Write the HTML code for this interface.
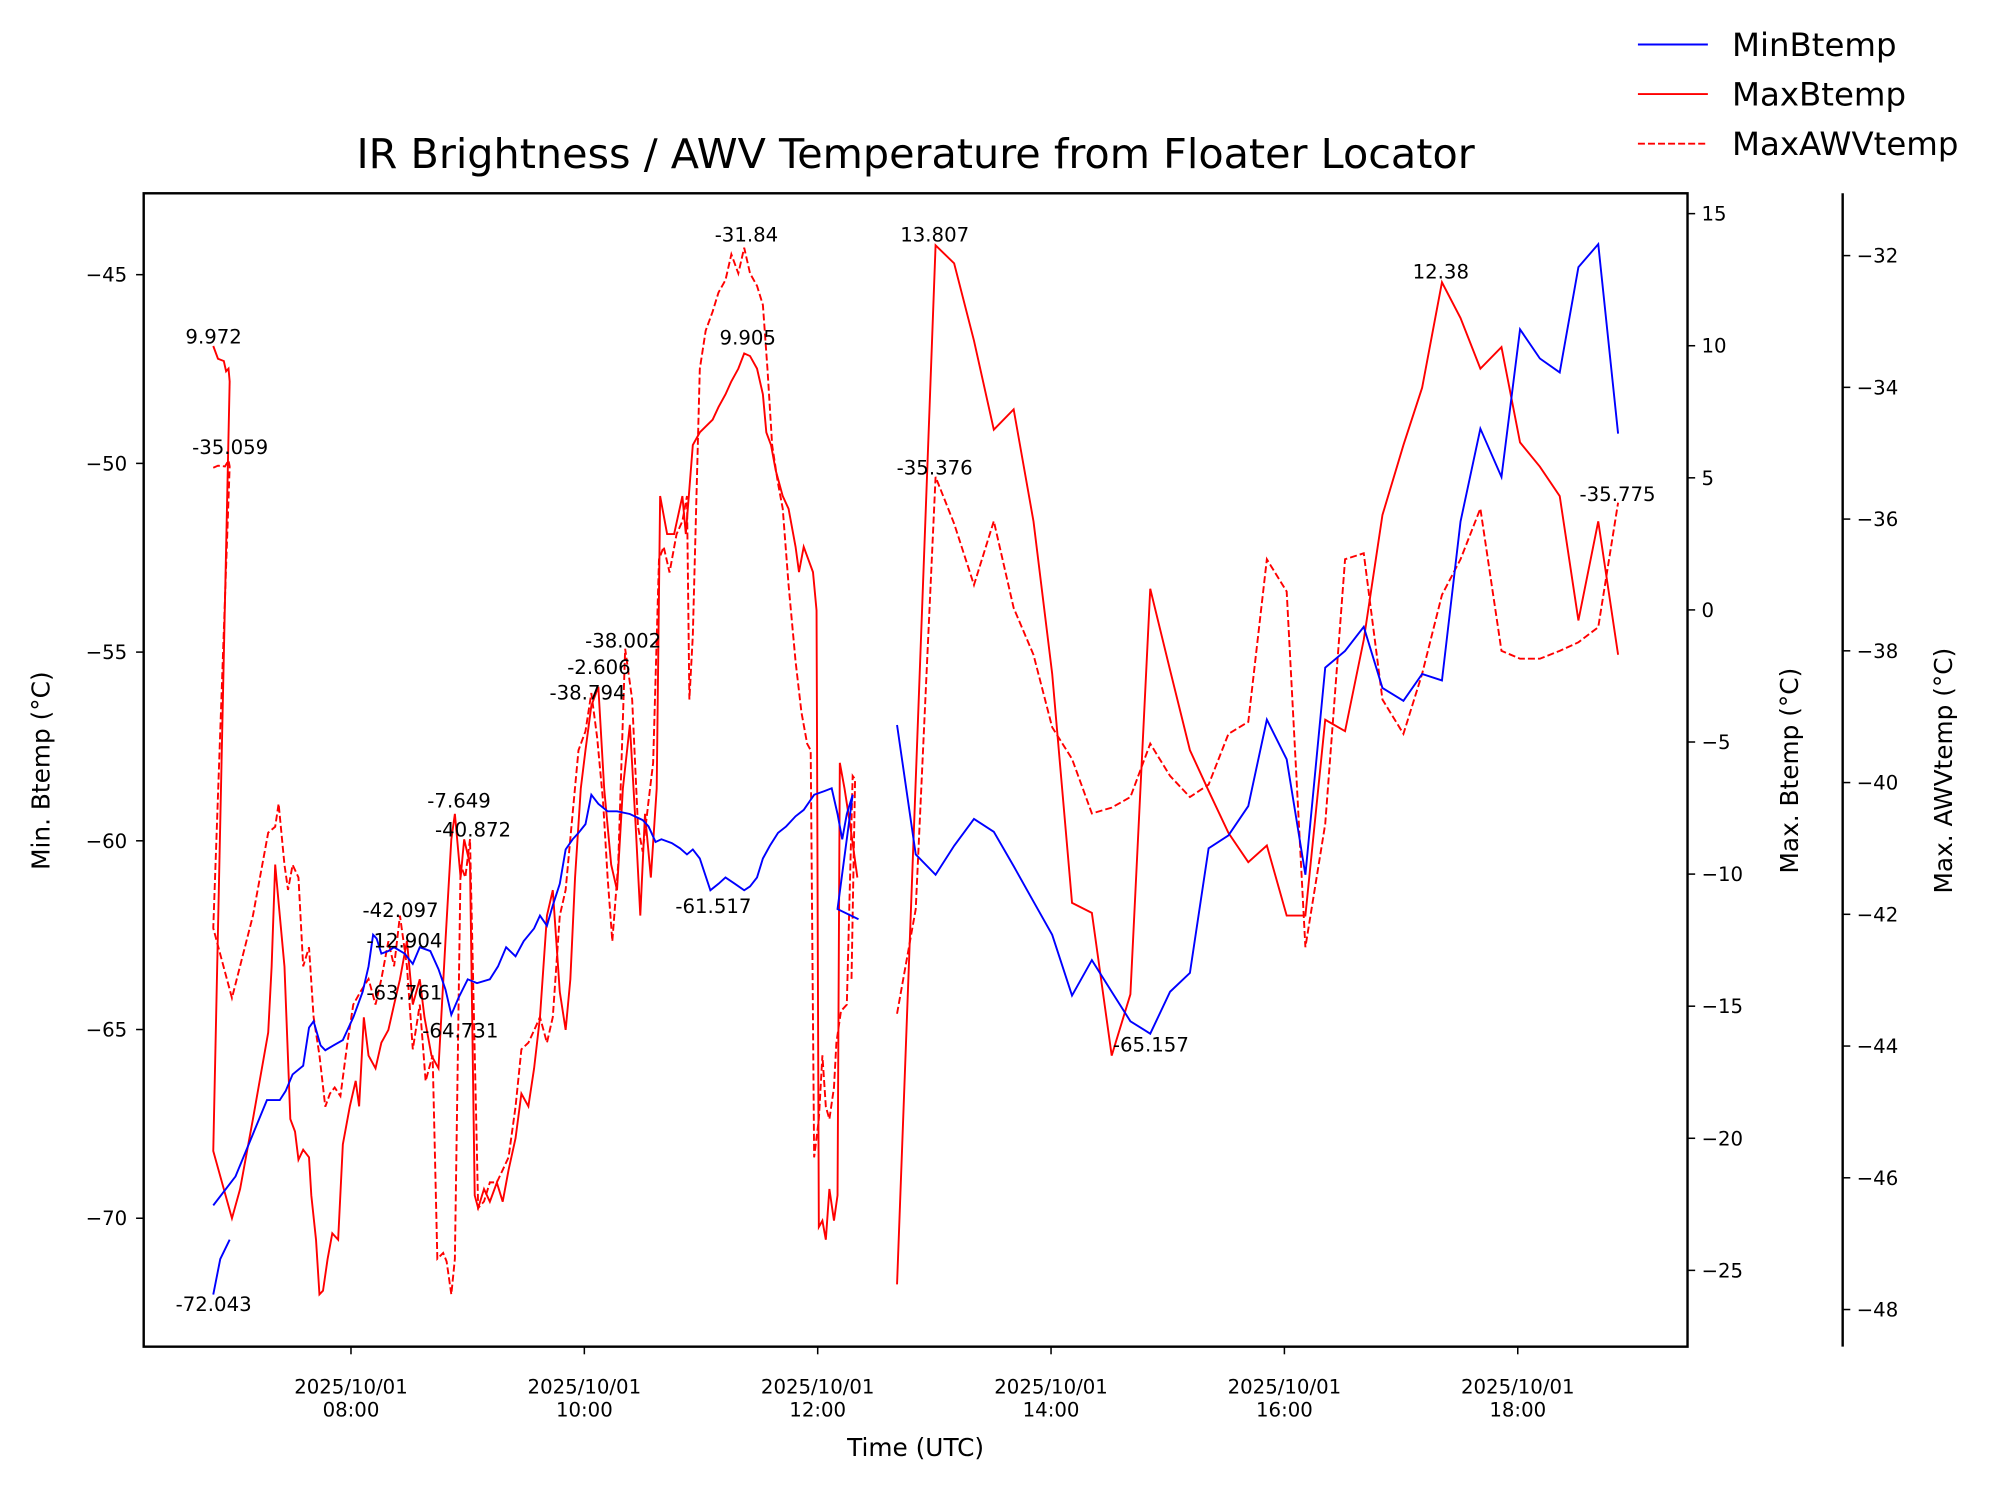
<!DOCTYPE html>
<html><head><meta charset="utf-8"><style>
html,body{margin:0;padding:0;background:#fff;}
svg{display:block;font-family:"DejaVu Sans","Liberation Sans",sans-serif;}
</style></head><body>
<svg id="chart" width="1994" height="1491" viewBox="0 0 1568 1172.5" preserveAspectRatio="none" xmlns="http://www.w3.org/2000/svg">
<rect width="1568" height="1172.5" fill="#fff"/>
<text x="720" y="132" font-size="32.5" text-anchor="middle">IR Brightness / AWV Temperature from Floater Locator</text>
<g id="plot"></g>
</svg>
<script>
// ---- data (hours UTC, values) ----
const minT = [6.82,6.88,6.96,null,6.82,7.01,7.28,7.39,7.44,7.50,7.59,7.64,7.68,7.74,7.78,7.85,7.93,8.02,8.10,8.15,8.19,8.22,8.26,8.32,8.37,8.46,8.53,8.59,8.68,8.75,8.81,8.86,8.92,9.00,9.08,9.19,9.26,9.33,9.41,9.48,9.57,9.62,9.68,9.73,9.79,9.84,9.90,9.95,10.01,10.06,10.12,10.20,10.28,10.39,10.50,10.55,10.61,10.66,10.75,10.82,10.88,10.93,10.99,11.08,11.15,11.21,11.29,11.37,11.42,11.48,11.53,11.59,11.66,11.73,11.81,11.88,11.97,12.06,12.12,12.17,12.21,12.25,12.30,12.17,12.35,null,
12.68,12.84,13.01,13.17,13.34,13.51,13.68,13.85,14.01,14.18,14.35,14.52,14.68,14.85,15.02,15.19,15.35,15.52,15.69,15.85,16.02,16.18,16.35,16.52,16.68,16.84,17.02,17.18,17.35,17.51,17.68,17.86,18.02,18.19,18.36,18.52,18.69,18.86];
const minV = [-72.02,-71.08,-70.57,null,-69.66,-68.89,-66.87,-66.87,-66.63,-66.19,-65.96,-64.95,-64.78,-65.42,-65.55,-65.42,-65.28,-64.68,-64.00,-63.33,-62.49,-62.59,-62.99,-62.92,-62.82,-62.99,-63.26,-62.82,-62.92,-63.40,-63.94,-64.61,-64.17,-63.67,-63.77,-63.67,-63.33,-62.82,-63.06,-62.66,-62.32,-61.98,-62.25,-61.71,-61.14,-60.23,-59.96,-59.79,-59.56,-58.78,-59.02,-59.22,-59.22,-59.29,-59.45,-59.62,-60.03,-59.96,-60.06,-60.20,-60.36,-60.23,-60.47,-61.31,-61.14,-60.97,-61.14,-61.31,-61.21,-60.97,-60.47,-60.13,-59.79,-59.62,-59.35,-59.18,-58.78,-58.68,-58.61,-59.29,-59.96,-59.29,-58.78,-61.81,-62.08,null,
-56.93,-60.36,-60.90,-60.13,-59.42,-59.76,-60.67,-61.61,-62.49,-64.10,-63.16,-64.00,-64.78,-65.11,-64.00,-63.50,-60.20,-59.86,-59.08,-56.79,-57.84,-60.90,-55.41,-54.97,-54.33,-55.95,-56.29,-55.58,-55.75,-51.54,-49.08,-50.36,-46.45,-47.22,-47.59,-44.80,-44.19,-49.21];

const maxT = [6.82,6.86,6.91,6.93,6.95,6.96,6.82,6.98,7.05,7.16,7.29,7.32,7.35,7.38,7.43,7.48,7.52,7.55,7.59,7.64,7.66,7.70,7.73,7.76,7.80,7.84,7.89,7.93,7.99,8.04,8.07,8.11,8.15,8.21,8.26,8.32,8.37,8.42,8.48,8.53,8.59,8.63,8.69,8.75,8.81,8.86,8.89,8.94,8.97,9.02,9.06,9.09,9.14,9.19,9.25,9.30,9.35,9.41,9.46,9.52,9.57,9.62,9.68,9.73,9.79,9.84,9.88,9.92,9.97,10.01,10.06,10.12,10.17,10.23,10.28,10.33,10.39,10.44,10.48,10.52,10.57,10.62,10.65,10.71,10.77,10.84,10.87,10.93,10.99,11.10,11.15,11.21,11.26,11.32,11.37,11.42,11.48,11.53,11.56,11.60,11.64,11.70,11.75,11.81,11.84,11.88,11.96,11.99,12.01,12.04,12.07,12.10,12.14,12.17,12.19,12.23,12.28,12.34,null,
12.68,13.01,13.17,13.34,13.51,13.68,13.85,14.01,14.18,14.35,14.52,14.68,14.85,15.02,15.19,15.35,15.52,15.69,15.85,16.02,16.18,16.35,16.52,16.68,16.84,17.02,17.18,17.35,17.51,17.68,17.86,18.02,18.19,18.36,18.52,18.69,18.86];
const maxV = [9.99,9.51,9.42,9.03,9.13,8.65,-20.48,-23.03,-21.92,-19.27,-16.00,-13.50,-9.64,-11.09,-13.50,-19.27,-19.75,-20.81,-20.43,-20.72,-22.16,-23.84,-25.91,-25.77,-24.57,-23.60,-23.84,-20.23,-18.79,-17.83,-18.79,-15.42,-16.87,-17.35,-16.38,-15.90,-14.94,-13.98,-12.53,-14.94,-13.98,-15.42,-16.87,-17.35,-12.53,-8.68,-7.72,-10.13,-8.68,-9.64,-22.16,-22.64,-21.92,-22.40,-21.68,-22.40,-21.20,-20.00,-18.31,-18.79,-17.35,-15.42,-11.57,-10.61,-14.46,-15.90,-13.98,-10.13,-6.76,-5.31,-3.63,-2.91,-6.76,-9.64,-10.61,-6.76,-4.35,-8.20,-11.57,-7.72,-10.13,-6.76,4.31,2.87,2.87,4.31,2.87,6.24,6.72,7.20,7.68,8.16,8.65,9.13,9.71,9.61,9.13,8.16,6.72,6.24,5.28,4.31,3.83,2.39,1.43,2.39,1.43,-0.02,-23.36,-23.12,-23.84,-21.92,-23.12,-22.16,-5.79,-6.76,-8.20,-10.13,null,
-25.53,13.80,13.12,10.19,6.82,7.59,3.35,-2.42,-11.09,-11.47,-16.87,-14.55,0.80,-2.28,-5.31,-6.85,-8.44,-9.55,-8.92,-11.57,-11.57,-4.16,-4.59,-1.13,3.59,6.24,8.41,12.40,11.05,9.13,9.95,6.34,5.42,4.31,-0.40,3.35,-1.70];

const awvT = [6.82,6.86,6.92,6.95,6.96,6.82,6.98,7.16,7.29,7.35,7.38,7.43,7.46,7.50,7.55,7.59,7.64,7.68,7.73,7.78,7.82,7.86,7.91,7.97,8.02,8.08,8.15,8.21,8.26,8.32,8.37,8.42,8.48,8.53,8.59,8.64,8.70,8.74,8.79,8.82,8.86,8.89,8.94,8.98,9.02,9.09,9.14,9.19,9.25,9.30,9.35,9.41,9.46,9.52,9.57,9.62,9.68,9.73,9.79,9.84,9.90,9.95,10.01,10.06,10.11,10.16,10.20,10.24,10.29,10.35,10.41,10.46,10.50,10.55,10.59,10.64,10.68,10.73,10.79,10.84,10.88,10.90,10.93,10.99,11.04,11.10,11.15,11.21,11.26,11.32,11.37,11.42,11.48,11.53,11.57,11.61,11.66,11.70,11.75,11.81,11.86,11.91,11.94,11.97,12.01,12.04,12.07,12.10,12.14,12.16,12.20,12.25,12.30,12.32,12.29,null,
12.68,12.84,13.01,13.17,13.34,13.51,13.68,13.85,14.01,14.18,14.35,14.52,14.68,14.85,15.02,15.19,15.35,15.52,15.69,15.85,16.02,16.18,16.35,16.52,16.68,16.84,17.02,17.18,17.35,17.51,17.68,17.86,18.02,18.19,18.36,18.52,18.69,18.86];
const awvV = [-35.22,-35.19,-35.20,-35.11,-35.20,-42.21,-43.27,-42.02,-40.76,-40.67,-40.32,-41.25,-41.63,-41.25,-41.44,-42.79,-42.50,-43.56,-44.14,-44.92,-44.72,-44.63,-44.76,-43.95,-43.37,-43.18,-42.98,-43.37,-42.98,-42.41,-42.79,-42.02,-42.79,-44.05,-43.37,-44.53,-44.14,-47.23,-47.14,-47.27,-47.77,-47.23,-41.25,-41.44,-40.86,-46.46,-46.36,-46.07,-46.07,-45.88,-45.69,-44.92,-44.05,-43.95,-43.76,-43.56,-43.95,-43.56,-42.02,-41.63,-40.47,-39.51,-39.22,-38.64,-39.32,-40.28,-41.44,-42.41,-41.25,-37.97,-38.74,-40.67,-41.05,-40.28,-39.70,-36.61,-36.42,-36.81,-36.23,-36.03,-35.65,-38.74,-37.77,-33.72,-33.14,-32.85,-32.56,-32.37,-31.98,-32.27,-31.88,-32.27,-32.46,-32.75,-33.72,-34.88,-35.46,-35.84,-37.00,-38.16,-38.93,-39.41,-39.51,-45.69,-45.11,-44.14,-44.92,-45.11,-44.63,-43.95,-43.47,-43.37,-39.90,-39.95,-42.98,null,
-43.51,-41.92,-35.36,-36.07,-37.00,-36.03,-37.35,-38.06,-39.16,-39.64,-40.47,-40.38,-40.22,-39.41,-39.90,-40.22,-40.03,-39.26,-39.08,-36.61,-37.10,-42.50,-40.63,-36.61,-36.52,-38.74,-39.26,-38.35,-37.15,-36.61,-35.84,-38.00,-38.12,-38.12,-38.00,-37.87,-37.64,-35.75];

const xTicks = [8,10,12,14,16,18];
const xTickLabels = ["08:00","10:00","12:00","14:00","16:00","18:00"];
const leftTicks = [-45,-50,-55,-60,-65,-70];
const right1Ticks = [15,10,5,0,-5,-10,-15,-20,-25];
const right2Ticks = [-32,-34,-36,-38,-40,-42,-44,-46,-48];

const ann = [
 ["9.972",168,270],["-35.059",181,357],["-72.043",168,1031],["-31.84",587,190],["9.905",588,271],
 ["13.807",735,190],["12.38",1133,219],["-35.376",735,373],["-35.775",1272,394],["-38.002",490,509],
 ["-2.606",471,530],["-38.794",462,550],["-7.649",361,635],["-40.872",372,658],["-42.097",315,721],
 ["-12.904",318,745],["-63.761",318,786],["-64.731",362,816],["-61.517",561,718],["-65.157",905,827]];

// ---- scales ----
const X0=113,X1=1327,Y0=152,Y1=1059;
const sx = h => 276 + (h-8)*91.75;
const syL = v => 216 + (-45 - v)*29.68;
const syR1 = v => 168 + (15 - v)*20.775;
const syR2 = v => 201 + (-32 - v)*51.8;

const NS="http://www.w3.org/2000/svg";
const plot=document.getElementById('plot');
function mk(tag,attrs,parent){const e=document.createElementNS(NS,tag);for(const k in attrs)e.setAttribute(k,attrs[k]);(parent||plot).appendChild(e);return e;}
function pathD(ts,vs,sy){let d="",pen=false;for(let i=0;i<ts.length;i++){if(ts[i]===null||vs[i]===null){pen=false;continue;}d+=(pen?"L":"M")+sx(ts[i]).toFixed(1)+","+sy(vs[i]).toFixed(1);pen=true;}return d;}

const clip=mk('clipPath',{id:'pc'});mk('rect',{x:X0,y:Y0,width:X1-X0,height:Y1-Y0},clip);

let p=mk('path',{d:pathD(awvT,awvV,syR2),fill:'none',stroke:'#ff0000','stroke-width':1.5,'stroke-dasharray':'5.5,2.4','clip-path':'url(#pc)'});


p=mk('path',{d:pathD(maxT,maxV,syR1),fill:'none',stroke:'#ff0000','stroke-width':1.5,'clip-path':'url(#pc)'});


p=mk('path',{d:pathD(minT,minV,syL),fill:'none',stroke:'#0000ff','stroke-width':1.5,'clip-path':'url(#pc)'});



// annotations
ann.forEach(a=>{const t=mk('text',{x:a[1],y:a[2],'font-size':15.5,'text-anchor':'middle'});t.textContent=a[0];

});

// frame
const fr=mk('rect',{x:X0,y:Y0,width:X1-X0,height:Y1-Y0,fill:'none',stroke:'#000','stroke-width':1.9});



// x ticks
xTicks.forEach((h,i)=>{const x=sx(h);mk('line',{x1:x,y1:Y1,x2:x,y2:Y1+6,stroke:'#000','stroke-width':1.2});
const t=mk('text',{x:x,y:1096,'font-size':15.5,'text-anchor':'middle'});t.textContent="2025/10/01";


const t2=mk('text',{x:x,y:1114,'font-size':15.5,'text-anchor':'middle'});t2.textContent=xTickLabels[i];

});
let xl=mk('text',{x:720,y:1145,'font-size':19.5,'text-anchor':'middle'});xl.textContent="Time (UTC)";



// left ticks
leftTicks.forEach(v=>{const y=syL(v);mk('line',{x1:X0-6,y1:y,x2:X0,y2:y,stroke:'#000','stroke-width':1.2});
const t=mk('text',{x:X0-13,y:y+5.5,'font-size':15.5,'text-anchor':'end'});t.textContent="−"+Math.abs(v);

});
let yl=mk('text',{x:0,y:0,'font-size':19.5,'text-anchor':'middle',transform:'translate(39,606) rotate(-90)'});yl.textContent="Min. Btemp (°C)";



// right axis 1
right1Ticks.forEach(v=>{const y=syR1(v);mk('line',{x1:X1,y1:y,x2:X1+6,y2:y,stroke:'#000','stroke-width':1.2});
const t=mk('text',{x:X1+11,y:y+5.5,'font-size':15.5,'text-anchor':'start'});t.textContent=(v<0?"−":"")+Math.abs(v);

});
let r1=mk('text',{x:0,y:0,'font-size':19.5,'text-anchor':'middle',transform:'translate(1414,606) rotate(-90)'});r1.textContent="Max. Btemp (°C)";



// right axis 2
const A2=1449;
mk('line',{x1:A2,y1:Y0,x2:A2,y2:Y1,stroke:'#000','stroke-width':1.9});
right2Ticks.forEach(v=>{const y=syR2(v);mk('line',{x1:A2,y1:y,x2:A2+6,y2:y,stroke:'#000','stroke-width':1.2});
const t=mk('text',{x:A2+11,y:y+5.5,'font-size':15.5,'text-anchor':'start'});t.textContent="−"+Math.abs(v);

});
let r2=mk('text',{x:0,y:0,'font-size':19.5,'text-anchor':'middle',transform:'translate(1535,606) rotate(-90)'});r2.textContent="Max. AWVtemp (°C)";



// legend
const leg=[["MinBtemp","#0000ff",null,35],["MaxBtemp","#ff0000",null,74],["MaxAWVtemp","#ff0000","5.5,2.4",113]];
leg.forEach(l=>{const g=mk('g',{});


const ln=mk('line',{x1:1288,y1:l[3],x2:1343,y2:l[3],stroke:l[1],'stroke-width':1.5},g);if(l[2])ln.setAttribute('stroke-dasharray',l[2]);
const t=mk('text',{x:1362,y:l[3]+9,'font-size':25.5},g);t.textContent=l[0];});
</script>
</body></html>
